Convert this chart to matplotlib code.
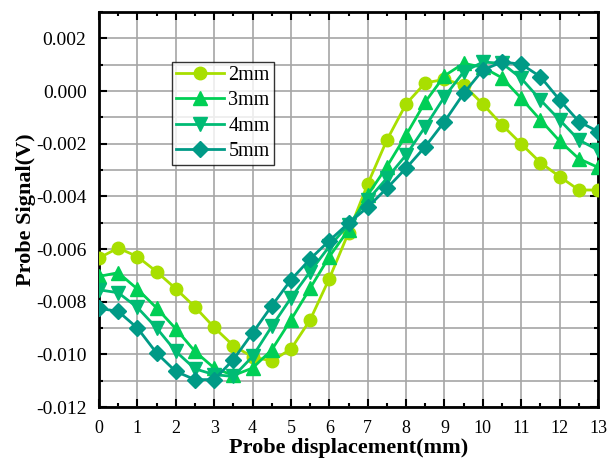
import matplotlib
matplotlib.use("Agg")
import matplotlib.pyplot as plt
from matplotlib.ticker import MultipleLocator, FormatStrFormatter

x = [i * 0.5 for i in range(27)]

s2mm = [-0.00634, -0.00596, -0.00629, -0.00686, -0.00751, -0.00820, -0.00898, -0.00967,
        -0.01010, -0.01025, -0.00980, -0.00869, -0.00712, -0.00538, -0.00353, -0.00186,
        -0.00049, 0.00031, 0.00044, 0.00023, -0.00050, -0.00129, -0.00201, -0.00272,
        -0.00325, -0.00376, -0.00376]
s3mm = [-0.00704, -0.00690, -0.00752, -0.00824, -0.00903, -0.00989, -0.01052, -0.01080,
        -0.01052, -0.00983, -0.00869, -0.00749, -0.00629, -0.00527, -0.00395, -0.00287,
        -0.00167, -0.00041, 0.00058, 0.00105, 0.00090, 0.00050, -0.00028, -0.00110,
        -0.00190, -0.00257, -0.00290]
s4mm = [-0.00755, -0.00766, -0.00822, -0.00900, -0.00989, -0.01055, -0.01077, -0.01084,
        -0.01008, -0.00894, -0.00786, -0.00686, -0.00590, -0.00508, -0.00414, -0.00331,
        -0.00243, -0.00135, -0.00022, 0.00073, 0.00110, 0.00105, 0.00048, -0.00034,
        -0.00110, -0.00186, -0.00224]
s5mm = [-0.00825, -0.00837, -0.00900, -0.00995, -0.01065, -0.01096, -0.01096, -0.01020,
        -0.00919, -0.00816, -0.00717, -0.00638, -0.00568, -0.00502, -0.00441, -0.00369,
        -0.00293, -0.00211, -0.00116, -0.00009, 0.00080, 0.00110, 0.00102, 0.00054,
        -0.00034, -0.00116, -0.00154]

labels = ["2mm", "3mm", "4mm", "5mm"]
series = [s2mm, s3mm, s4mm, s5mm]
colors = ["#a8df00", "#00cf55", "#00bb74", "#009a86"]
markers = ["o", "^", "v", "D"]
msizes = [9, 9.5, 9.5, 8]

plt.rcParams['font.family'] = ['Liberation Serif', 'DejaVu Serif']

fig = plt.figure(figsize=(6.09, 4.65), dpi=100)
ax = fig.add_axes([0.1626, 0.1247, 0.8194, 0.8495])

for y, lab, c, m, ms in zip(series, labels, colors, markers, msizes):
    ax.plot(x, y, color=c, marker=m, markersize=ms, linewidth=2, label=lab, zorder=3)

ax.set_xlim(0, 13)
ax.set_ylim(-0.012, 0.003)
ax.xaxis.set_major_locator(MultipleLocator(1))
ax.xaxis.set_minor_locator(MultipleLocator(0.5))
ax.yaxis.set_major_locator(MultipleLocator(0.002))
ax.yaxis.set_minor_locator(MultipleLocator(0.001))
ax.yaxis.set_major_formatter(FormatStrFormatter('%.3f'))

ax.grid(True, which='major', axis='x', color='#a6a6a6', linewidth=1.2, zorder=0)
ax.grid(True, which='both', axis='y', color='#a6a6a6', linewidth=1.2, zorder=0)
ax.set_axisbelow(True)

ax.tick_params(which='both', direction='in', top=True, right=True, width=1.5)
ax.tick_params(which='major', length=6)
ax.tick_params(which='minor', length=3)
ax.tick_params(axis='x', pad=9, labelsize=13)
ax.tick_params(axis='y', pad=9, labelsize=14)
for sp in ax.spines.values():
    sp.set_linewidth(2)

ax.set_xlabel('Probe displacement(mm)', fontsize=16, fontweight='bold', labelpad=1)
ax.set_ylabel('Probe Signal(V)', fontsize=16, fontweight='bold', labelpad=0)

leg = ax.legend(loc='upper left', bbox_to_anchor=(0.146, 0.873), borderaxespad=0,
                fontsize=14.5, frameon=True, fancybox=False, edgecolor='black',
                handlelength=2.4, handletextpad=0.2, labelspacing=0.3, borderpad=0.2)
leg.get_frame().set_linewidth(1.0)

fig.savefig('out.png', dpi=100)
